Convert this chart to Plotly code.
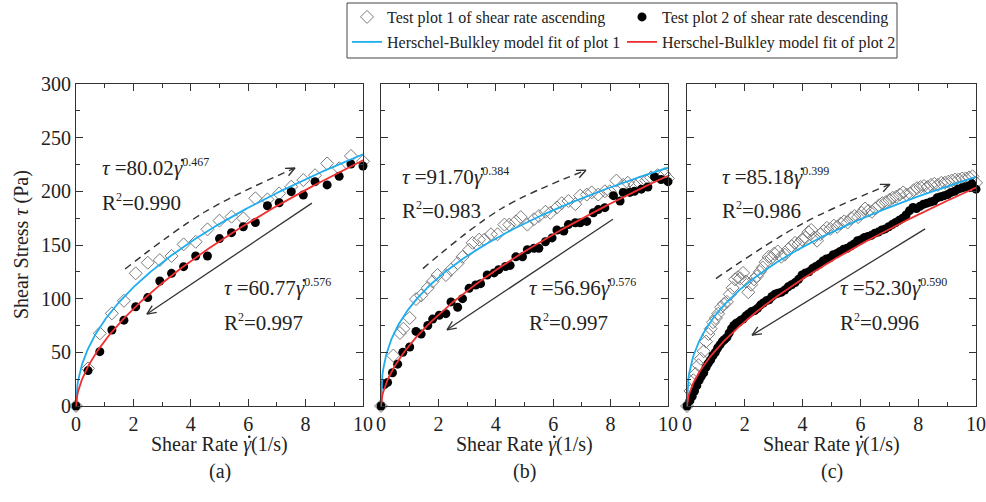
import numpy as np
import plotly.graph_objects as go

W, H = 986, 502
FONT = "Liberation Serif, Times New Roman, serif"

# ---------------- data ----------------
# Panel (a)
A_ASC_X = [0, 0.42, 0.83, 1.25, 1.67, 2.08, 2.5, 2.92, 3.33, 3.75, 4.17, 4.58, 5.0,
           5.42, 5.83, 6.25, 6.67, 7.08, 7.5, 7.92, 8.33, 8.75, 9.17, 9.58, 10.0]
A_ASC_Y = [0, 35, 67.7, 86.3, 98, 123.6, 133.5, 136, 139.8, 150.6, 153, 164.6, 172.7,
           176.4, 174.8, 193.5, 192.5, 198, 204.3, 210.5, 215, 226, 221.5, 233, 228]
A_DESC_X = [0, 0.42, 0.83, 1.25, 1.67, 2.08, 2.5, 2.92, 3.33, 3.75, 4.17, 4.58, 5.0,
            5.42, 5.83, 6.25, 6.67, 7.08, 7.5, 7.92, 8.33, 8.75, 9.17, 9.58, 10.0]
A_DESC_Y = [0, 33, 50.6, 70.8, 80, 92.5, 101, 116.5, 123.6, 129.8, 139.8, 139.8, 156,
            161.5, 167, 171, 186.6, 189.4, 199.7, 196.6, 209, 206, 214, 225.5, 223.6]

# Panel (b)
B_ASC_X = [0, 0.43, 0.66, 0.78, 1.0, 1.22, 1.4, 1.63, 1.8, 1.97, 2.26, 2.44, 2.67, 2.84,
           3.07, 3.19, 3.42, 3.6, 3.83, 4.06, 4.3, 4.47, 4.7, 4.87, 5.1, 5.33, 5.5, 5.73,
           5.9, 6.13, 6.3, 6.53, 6.77, 6.94, 7.17, 7.34, 7.57, 7.8, 7.97, 8.2, 8.44, 8.6,
           8.83, 9.0, 9.24, 9.41, 9.64, 9.87, 10.0]
B_ASC_Y = [0, 47, 68, 72, 82, 99.6, 103, 110, 116, 122, 122, 127, 133, 139, 145.6, 152,
           155, 155, 160, 160, 169, 169, 172, 176, 169, 174, 177, 181, 180, 185, 189, 191,
           188, 196, 197, 199, 197, 200, 200, 210, 206, 208, 206, 208, 210, 213, 215, 216, 212]
B_DESC_X = [0, 0.12, 0.23, 0.4, 0.58, 0.76, 1.0, 1.22, 1.4, 1.63, 1.8, 2.03, 2.26, 2.44,
            2.67, 2.84, 3.07, 3.3, 3.47, 3.7, 3.94, 4.1, 4.34, 4.5, 4.7, 4.93, 5.1, 5.33,
            5.5, 5.73, 5.96, 6.13, 6.37, 6.53, 6.77, 6.94, 7.17, 7.4, 7.57, 7.8, 8.1, 8.33,
            8.44, 8.67, 8.83, 9.07, 9.3, 9.53, 9.76, 10.0]
B_DESC_Y = [0, 20, 22, 31, 39, 50, 55, 69.5, 67, 75, 81, 84.5, 86, 97, 92, 100, 109.6,
            112.7, 114, 122, 124, 127, 130, 131, 139, 139, 145.6, 147, 147, 153, 156.6, 164,
            163, 169, 170.7, 170.7, 172, 180, 183, 184.8, 196, 191, 199, 199, 200, 202, 204,
            213.6, 211, 209]

# Panel (c)
C_ASC_X = [0, 0.12, 0.22, 0.3, 0.4, 0.48, 0.58, 0.66, 0.74, 0.82, 0.9, 1.0, 1.08, 1.18,
           1.28, 1.38, 1.48, 1.58, 1.66, 1.76, 1.84, 1.94, 2.04, 2.12, 2.22, 2.32, 2.42,
           2.52, 2.62, 2.72, 2.82, 2.92, 3.02, 3.14, 3.26, 3.38, 3.5, 3.62, 3.74, 3.86,
           3.98, 4.1, 4.2, 4.3, 4.4, 4.5, 4.62, 4.72, 4.84, 4.96, 5.08, 5.2, 5.32, 5.44,
           5.56, 5.68, 5.8, 5.92, 6.04, 6.16, 6.28, 6.4, 6.52, 6.64, 6.76, 6.88, 7.0, 7.12,
           7.24, 7.36, 7.48, 7.6, 7.72, 7.84, 7.96, 8.08, 8.2, 8.32, 8.44, 8.56, 8.68, 8.8,
           8.92, 9.04, 9.16, 9.28, 9.4, 9.52, 9.64, 9.76, 9.88, 10.0]
C_ASC_Y = [0, 14, 24, 30, 38, 44, 51, 60, 67, 72, 78, 82, 86, 92, 95, 97, 104, 110, 118,
           120, 119, 124, 116, 106, 113, 118, 121, 125, 129, 134, 139, 138, 142, 144, 139,
           141, 146, 149, 152, 151, 155, 157, 162, 164, 157, 154, 160, 163, 166, 165, 168,
           167, 170, 172, 171, 175, 177, 176, 180, 184, 182, 181, 184, 187, 189, 190, 192,
           194, 195, 197, 199, 197, 198, 201, 203, 204, 205, 204, 206, 207, 206, 208, 208,
           209, 210, 211, 211, 212, 212, 213, 214, 208]
C_DESC_X = [0, 0.1, 0.18, 0.26, 0.34, 0.42, 0.5, 0.58, 0.66, 0.74, 0.82, 0.9, 0.98, 1.06,
            1.14, 1.22, 1.3, 1.38, 1.46, 1.54, 1.62, 1.7, 1.78, 1.86, 1.94, 2.04, 2.14,
            2.24, 2.34, 2.44, 2.54, 2.64, 2.74, 2.84, 2.94, 3.04, 3.14, 3.26, 3.38, 3.5,
            3.62, 3.74, 3.86, 3.98, 4.1, 4.22, 4.34, 4.46, 4.58, 4.7, 4.82, 4.94, 5.06,
            5.18, 5.3, 5.42, 5.54, 5.66, 5.78, 5.9, 6.02, 6.14, 6.26, 6.38, 6.5, 6.62, 6.74,
            6.86, 6.98, 7.1, 7.22, 7.34, 7.46, 7.58, 7.7, 7.82, 7.94, 8.06, 8.18, 8.3, 8.42,
            8.54, 8.66, 8.78, 8.9, 9.02, 9.14, 9.26, 9.38, 9.5, 9.62, 9.74, 9.86, 10.0]
C_DESC_Y = [0, 5, 9, 14, 19, 24, 28, 31, 36, 40, 43, 47, 50, 54, 57, 60, 62, 64, 68, 72,
            75, 77, 78, 80, 81, 84, 86, 88, 89, 91, 94, 96, 98, 99, 102, 104, 105, 106, 108,
            111, 113, 115, 118, 122, 124, 125, 128, 130, 132, 135, 137, 138, 141, 142, 144,
            146, 147, 149, 151, 154, 155, 157, 158, 159, 161, 162, 164, 165, 167, 169, 171,
            173, 175, 178, 182, 185, 184, 186, 188, 189, 190, 191, 194, 195, 196, 197, 199,
            200, 202, 203, 204, 205, 207, 202]

# Herschel-Bulkley fit parameters (tau = K * gamma_dot ^ n) and R^2
FIT_K_ASC = [80.02, 91.70, 85.18]
FIT_N_ASC = [0.467, 0.384, 0.399]
R2_ASC = ["0.990", "0.983", "0.986"]
FIT_K_DESC = [60.77, 56.96, 52.30]
FIT_N_DESC = [0.576, 0.576, 0.590]
R2_DESC = ["0.997", "0.997", "0.996"]

# Direction arrows (data coordinates)
DASH_ARROW_X = [[1.71, 4.5, 7.63], [1.46, 4.2, 7.14], [1.0, 4.0, 7.02]]
DASH_ARROW_Y = [[127.6, 181, 221.7], [128, 184, 219.6], [118.7, 170, 206.5]]
SOLID_ARROW_X = [[8.22, 2.47], [8.08, 2.30], [8.24, 2.25]]
SOLID_ARROW_Y = [[189, 85.7], [174, 71], [165, 66]]

# Equation label anchors (data coordinates, left/middle)
EQ_ASC_POS = [(0.84, 222), (0.66, 214), (1.14, 214)]
EQ_DESC_POS = [(5.08, 110), (5.08, 110), (5.24, 110)]

PANEL_LABELS = ["(a)", "(b)", "(c)"]
X_TICKS = [0, 2, 4, 6, 8, 10]
X_MINOR = [1, 3, 5, 7, 9]
Y_TICKS = [0, 50, 100, 150, 200, 250, 300]
Y_MINOR = [25, 75, 125, 175, 225, 275]

LEGEND_NAMES = ["Test plot 1 of shear rate ascending",
                "Test plot 2 of shear rate descending",
                "Herschel-Bulkley model fit of plot 1",
                "Herschel-Bulkley model fit of plot 2"]

ASC = [(A_ASC_X, A_ASC_Y), (B_ASC_X, B_ASC_Y), (C_ASC_X, C_ASC_Y)]
DESC = [(A_DESC_X, A_DESC_Y), (B_DESC_X, B_DESC_Y), (C_DESC_X, C_DESC_Y)]

# ---------------- layout geometry ----------------
XDOM_PX = [(76, 363), (381, 668), (687, 976)]
Y_TOP, Y_BOT = 84, 406
SX = 287 / 10.0
SY = (Y_BOT - Y_TOP) / 300.0

BLUE = "#1eaef0"
RED = "#f03030"
GRAY = "#7a7a7a"
AX = "#333333"
TXT = "#222222"

FS_EQ = 21
FS_TITLE = 20
FS_TICK = 20

# Times / Liberation Serif advance widths (em) for width estimates of the dot over gamma
CW = {'S': .556, 'h': .5, 'e': .444, 'a': .444, 'r': .333, ' ': .25, 'R': .667, 't': .278,
      '(': .333, ')': .333, '/': .278, 's': .389, '=': .564, '.': .25, 'τ': .44, 'γ': .44}


def tw(s):
    return sum(CW.get(c, .5) for c in s)


fig = go.Figure()


def head(x0, y0, x1, y1, length=10, ang=np.radians(24)):
    dx, dy = (x1 - x0) * SX, (y1 - y0) * SY
    d = np.hypot(dx, dy)
    ux, uy = dx / d, dy / d
    pts = []
    for s in (1, -1):
        c, sn = np.cos(s * ang), np.sin(s * ang)
        bx = -(ux * c - uy * sn)
        by = -(ux * sn + uy * c)
        pts.append((x1 + bx * length / SX, y1 + by * length / SY))
    return [pts[0][0], x1, pts[1][0]], [pts[0][1], y1, pts[1][1]]


shapes = [dict(type="rect", xref="paper", yref="paper", x0=347 / W, x1=897 / W,
               y0=(H - 58) / H, y1=(H - 3) / H, line=dict(color="#444", width=1))]


def dot(px, py, r=1.3):
    shapes.append(dict(type="circle", xref="paper", yref="paper",
                       x0=(px - r) / W, x1=(px + r) / W, y0=(H - py - r) / H, y1=(H - py + r) / H,
                       fillcolor=TXT, line=dict(width=0)))


gx = np.linspace(0, 10, 400)
annotations = []
sup = lambda t: f'<sup><span style="font-size:12px">{t}</span></sup>'

for i in range(3):
    xa = "x" if i == 0 else f"x{i+1}"
    ya = "y" if i == 0 else f"y{i+1}"
    show = i == 0
    ax_, ay_ = ASC[i]
    dx_, dy_ = DESC[i]
    fig.add_trace(go.Scatter(
        x=ax_, y=ay_, mode="markers", xaxis=xa, yaxis=ya, cliponaxis=False,
        marker=dict(symbol="diamond-open", size=10, color=GRAY, line=dict(width=1, color=GRAY)),
        name=LEGEND_NAMES[0], showlegend=show, legend="legend"))
    fig.add_trace(go.Scatter(
        x=dx_, y=dy_, mode="markers", xaxis=xa, yaxis=ya, cliponaxis=False,
        marker=dict(symbol="circle", size=9, color="black"),
        name=LEGEND_NAMES[1], showlegend=show, legend="legend"))
    fig.add_trace(go.Scatter(
        x=gx, y=FIT_K_ASC[i] * gx ** FIT_N_ASC[i], mode="lines", xaxis=xa, yaxis=ya,
        line=dict(color=BLUE, width=1.8), name=LEGEND_NAMES[2], showlegend=show, legend="legend2"))
    fig.add_trace(go.Scatter(
        x=gx, y=FIT_K_DESC[i] * gx ** FIT_N_DESC[i], mode="lines", xaxis=xa, yaxis=ya,
        line=dict(color=RED, width=1.8), name=LEGEND_NAMES[3], showlegend=show, legend="legend2"))

    # dashed (ascending) arrow
    fig.add_trace(go.Scatter(
        x=DASH_ARROW_X[i], y=DASH_ARROW_Y[i], mode="lines", xaxis=xa, yaxis=ya,
        line=dict(color="#333", width=1.4, dash="7px,5px", shape="spline"),
        showlegend=False, hoverinfo="skip"))
    hx, hy = head(DASH_ARROW_X[i][1], DASH_ARROW_Y[i][1], DASH_ARROW_X[i][2], DASH_ARROW_Y[i][2])
    fig.add_trace(go.Scatter(x=hx, y=hy, mode="lines", xaxis=xa, yaxis=ya,
                             line=dict(color="#333", width=1.4), showlegend=False, hoverinfo="skip"))
    # solid (descending) arrow
    fig.add_trace(go.Scatter(
        x=SOLID_ARROW_X[i], y=SOLID_ARROW_Y[i], mode="lines", xaxis=xa, yaxis=ya,
        line=dict(color="#333", width=1.3), showlegend=False, hoverinfo="skip"))
    hx, hy = head(SOLID_ARROW_X[i][0], SOLID_ARROW_Y[i][0], SOLID_ARROW_X[i][1], SOLID_ARROW_Y[i][1])
    fig.add_trace(go.Scatter(x=hx, y=hy, mode="lines", xaxis=xa, yaxis=ya,
                             line=dict(color="#333", width=1.3), showlegend=False, hoverinfo="skip"))

    for (px, py), K, n, r2 in [(EQ_ASC_POS[i], FIT_K_ASC[i], FIT_N_ASC[i], R2_ASC[i]),
                               (EQ_DESC_POS[i], FIT_K_DESC[i], FIT_N_DESC[i], R2_DESC[i])]:
        kstr = f"{K:.2f}"
        annotations.append(dict(
            x=px, y=py, xref=xa, yref=ya, xanchor="left", yanchor="middle", showarrow=False,
            text=f"<i>τ</i> ={kstr}<i>γ</i>{sup(f'{n:.3f}')}",
            font=dict(family=FONT, size=FS_EQ, color=TXT)))
        annotations.append(dict(
            x=px, y=py - 32, xref=xa, yref=ya, xanchor="left", yanchor="middle", showarrow=False,
            text=f"R{sup('2')}={r2}", font=dict(family=FONT, size=FS_EQ, color=TXT)))
        # dot above gamma
        left_px = XDOM_PX[i][0] + px * SX + 2
        gpx = left_px + tw("τ =" + kstr) * FS_EQ + 0.5 * tw("γ") * FS_EQ + 2
        gpy = Y_BOT - py * SY - 0.36 * FS_EQ
        dot(gpx, gpy)

    cx_px = (XDOM_PX[i][0] + XDOM_PX[i][1]) / 2
    title_y = 444
    annotations.append(dict(x=cx_px / W, y=(H - title_y) / H, xref="paper", yref="paper",
                            showarrow=False, text="Shear Rate <i>γ</i>(1/s)",
                            xanchor="center", yanchor="middle",
                            font=dict(family=FONT, size=FS_TITLE, color=TXT)))
    total = tw("Shear Rate γ(1/s)") * FS_TITLE
    gpx = cx_px - total / 2 + tw("Shear Rate ") * FS_TITLE + 0.5 * tw("γ") * FS_TITLE + 2
    dot(gpx, title_y - 0.36 * FS_TITLE)
    annotations.append(dict(x=cx_px / W, y=(H - 471) / H, xref="paper", yref="paper",
                            showarrow=False, text=PANEL_LABELS[i], xanchor="center",
                            yanchor="middle", font=dict(family=FONT, size=FS_TITLE, color=TXT)))

annotations.append(dict(x=21 / W, y=(H - 245) / H, xref="paper", yref="paper", showarrow=False,
                        text="Shear Stress <i>τ</i> (Pa)", textangle=-90, xanchor="center",
                        yanchor="middle", font=dict(family=FONT, size=FS_TITLE, color=TXT)))

leg_common = dict(orientation="h", x=347 / W, xanchor="left", yanchor="middle",
                  font=dict(family=FONT, size=16, color=TXT), bgcolor="rgba(0,0,0,0)",
                  entrywidth=230, entrywidthmode="pixels", tracegroupgap=0)

layout = dict(
    width=W, height=H, autosize=False,
    margin=dict(l=0, r=0, t=0, b=0, autoexpand=False),
    paper_bgcolor="white", plot_bgcolor="white",
    annotations=annotations,
    shapes=shapes,
    legend=dict(y=(H - 17) / H, **leg_common),
    legend2=dict(y=(H - 42) / H, **leg_common),
)

for i in range(3):
    xk = "xaxis" if i == 0 else f"xaxis{i+1}"
    yk = "yaxis" if i == 0 else f"yaxis{i+1}"
    ya = "y" if i == 0 else f"y{i+1}"
    xa = "x" if i == 0 else f"x{i+1}"
    common = dict(ticks="inside", ticklen=7, tickwidth=1, tickcolor=AX, showline=True,
                  linecolor=AX, linewidth=1.2, mirror="ticks", showgrid=False, zeroline=False,
                  tickfont=dict(family=FONT, size=FS_TICK, color=TXT), tickmode="array")
    layout[xk] = dict(domain=[XDOM_PX[i][0] / W, XDOM_PX[i][1] / W], range=[0, 10],
                      tickvals=X_TICKS, anchor=ya,
                      minor=dict(tickmode="array", tickvals=X_MINOR, ticks="inside", ticklen=4,
                                 tickcolor=AX, showgrid=False), **common)
    layout[yk] = dict(domain=[(H - Y_BOT) / H, (H - Y_TOP) / H], range=[0, 300],
                      tickvals=Y_TICKS, anchor=xa, showticklabels=(i == 0),
                      minor=dict(tickmode="array", tickvals=Y_MINOR, ticks="inside", ticklen=4,
                                 tickcolor=AX, showgrid=False), **common)

fig.update_layout(**layout)
fig.write_html("out.html", config={"displayModeBar": False},
               post_script="document.body.style.margin='0px';document.body.style.padding='0px';")
